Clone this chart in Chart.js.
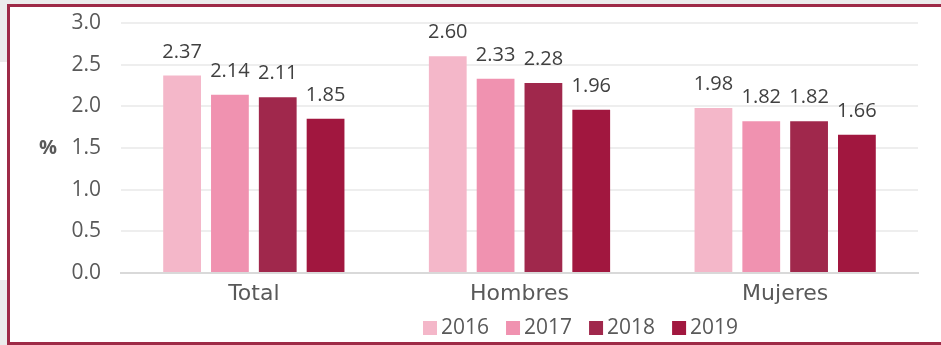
<!DOCTYPE html>
<html>
<head>
<meta charset="utf-8">
<script src="https://cdn.jsdelivr.net/npm/chart.js@4"></script>
<style>
  html, body { margin: 0; padding: 0; background: #fff; }
  #wrap { position: relative; width: 941px; height: 345px; overflow: hidden; }
  .gris { position: absolute; background: #ececec; }
  #marco { position: absolute; left: 7px; top: 4px; width: 980px; height: 335px;
           border: 3px solid #9e2a47; background: #fff; }
  canvas { position: absolute; left: 0; top: 0; }
</style>
</head>
<body>
<div id="wrap">
  <div class="gris" style="left:0;top:0;width:941px;height:5px"></div>
  <div class="gris" style="left:0;top:0;width:8px;height:62px"></div>
  <div class="gris" style="left:0;top:280px;width:8px;height:65px"></div>
  <div id="marco"></div>
  <canvas id="myChart" width="941" height="345"></canvas>
</div>
<script>
const categorias = ["Total", "Hombres", "Mujeres"];
const anios = ["2016", "2017", "2018", "2019"];
const valores2016 = [2.37, 2.60, 1.98];
const valores2017 = [2.14, 2.33, 1.82];
const valores2018 = [2.11, 2.28, 1.82];
const valores2019 = [1.85, 1.96, 1.66];
const colores = ["#f4b7c9", "#f092b0", "#a0284c", "#a1173f"];

const fuente = "'Open Sans', sans-serif";
const fuenteCat = "'DejaVu Sans', sans-serif";
const gris = "#595959";

// etiquetas de valor encima de cada barra
const etiquetas = {
  id: "etiquetas",
  afterDatasetsDraw(chart) {
    const ctx = chart.ctx;
    ctx.save();
    ctx.font = "20px " + fuente;
    ctx.fillStyle = "#404040";
    ctx.textAlign = "center";
    ctx.textBaseline = "alphabetic";
    chart.data.datasets.forEach((ds, i) => {
      chart.getDatasetMeta(i).data.forEach((bar, j) => {
        ctx.fillText(ds.data[j].toFixed(2), bar.x, bar.y - 18);
      });
    });
    ctx.restore();
  },
};

// leyenda y titulo del eje
const extras = {
  id: "extras",
  afterDraw(chart) {
    const ctx = chart.ctx;
    ctx.save();
    ctx.font = "bold 20px " + fuente;
    ctx.fillStyle = gris;
    ctx.textAlign = "center";
    ctx.textBaseline = "middle";
    ctx.fillText("%", 48, chart.scales.y.getPixelForValue(1.5));

    ctx.font = "21px " + fuente;
    ctx.textAlign = "left";
    let x = 423;
    const y = 328;
    chart.data.datasets.forEach((ds) => {
      ctx.fillStyle = ds.backgroundColor;
      ctx.fillRect(x, y - 7, 14, 14);
      ctx.fillStyle = gris;
      ctx.fillText(ds.label, x + 18, y);
      x += 18 + ctx.measureText(ds.label).width + 17;
    });
    ctx.restore();
  },
};

const series = [valores2016, valores2017, valores2018, valores2019];

new Chart(document.getElementById("myChart"), {
  type: "bar",
  data: {
    labels: categorias,
    datasets: series.map((d, i) => ({
      label: anios[i],
      data: d,
      backgroundColor: colores[i],
      categoryPercentage: 0.72,
      barPercentage: 0.79,
    })),
  },
  options: {
    responsive: false,
    animation: false,
    layout: { padding: { top: 23, right: 23, left: 0, bottom: 0 } },
    plugins: { legend: { display: false }, tooltip: { enabled: false } },
    scales: {
      x: {
        grid: { display: false, drawTicks: false },
        border: { color: "#d9d9d9", width: 2 },
        ticks: { color: gris, font: { family: fuenteCat, size: 22 }, padding: 8 },
        afterFit: (s) => { s.height = 72; s.paddingTop = 0; },
      },
      y: {
        min: 0,
        max: 3,
        ticks: {
          stepSize: 0.5,
          color: gris,
          font: { family: fuente, size: 21 },
          padding: 20,
          callback: (v) => v.toFixed(1),
        },
        grid: { color: "#eeeeee", lineWidth: 2, drawTicks: false },
        border: { display: false },
        afterFit: (s) => { s.width = 121; s.paddingTop = 0; s.paddingBottom = 0; },
      },
    },
  },
  plugins: [etiquetas, extras],
});
</script>
</body>
</html>
